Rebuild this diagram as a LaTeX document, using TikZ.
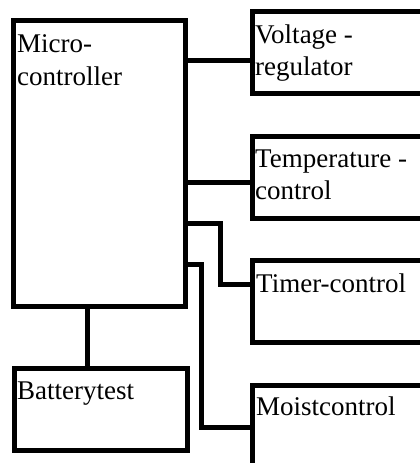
\documentclass[tikz,border=0pt]{standalone}
\usepackage{fontspec}
\setmainfont{Liberation Serif}
\begin{document}
\begin{tikzpicture}[x=1pt,y=-1pt,
  blk/.style={draw=black,line width=5pt,rectangle,inner sep=0pt,anchor=north west},
  lbl/.style={inner sep=0pt,anchor=base west,font=\fontsize{27}{33}\selectfont},
  wire/.style={draw=black,line width=5pt,line join=miter}]
\useasboundingbox (0,0) rectangle (420,463);
\clip (0,0) rectangle (420,463);
% boxes
\node[blk,minimum width=171.5pt,minimum height=286pt] (mc) at (11,18) {};
\node[blk,minimum width=200pt,minimum height=82pt] (volt) at (249.5,9) {};
\node[blk,minimum width=200pt,minimum height=82.5pt] (temp) at (249.5,133.5) {};
\node[blk,minimum width=200pt,minimum height=82pt] (timer) at (249.5,258) {};
\node[blk,minimum width=200pt,minimum height=120pt] (moist) at (249.5,383) {};
\node[blk,minimum width=172.5pt,minimum height=82pt] (bat) at (12,366) {};
% labels
\node[lbl] (mct1) at (17,52) {Micro-};
\node[lbl] (mct2) at (17,85) {controller};
\node[lbl] (vt1) at (255,43) {Voltage -};
\node[lbl] (vt2) at (255,75) {regulator};
\node[lbl] (tt1) at (255,167) {Temperature -};
\node[lbl] (tt2) at (255,199) {control};
\node[lbl] (tmt) at (256,292) {Timer-control};
\node[lbl] (mot) at (256,415) {Moistcontrol};
\node[lbl] (bt) at (17,399) {Batterytest};
% helper coordinates
\coordinate (yv) at (0,60);
\coordinate (yt) at (0,182);
\coordinate (ytm1) at (0,223.5);
\coordinate (ytm2) at (0,284.5);
\coordinate (ym1) at (0,264.5);
\coordinate (ym2) at (0,427);
\coordinate (xtm) at (220.5,0);
\coordinate (xm) at (201.5,0);
\coordinate (xb) at (87.5,0);
% connectors
\draw[wire] (mc.east |- yv) -- (volt.west |- yv);
\draw[wire] (mc.east |- yt) -- (temp.west |- yt);
\draw[wire] (mc.east |- ytm1) -- (xtm |- ytm1) -- (xtm |- ytm2) -- (timer.west |- ytm2);
\draw[wire] (mc.east |- ym1) -- (xm |- ym1) -- (xm |- ym2) -- (moist.west |- ym2);
\draw[wire] (xb |- mc.south) -- (xb |- bat.north);
\end{tikzpicture}
\end{document}
